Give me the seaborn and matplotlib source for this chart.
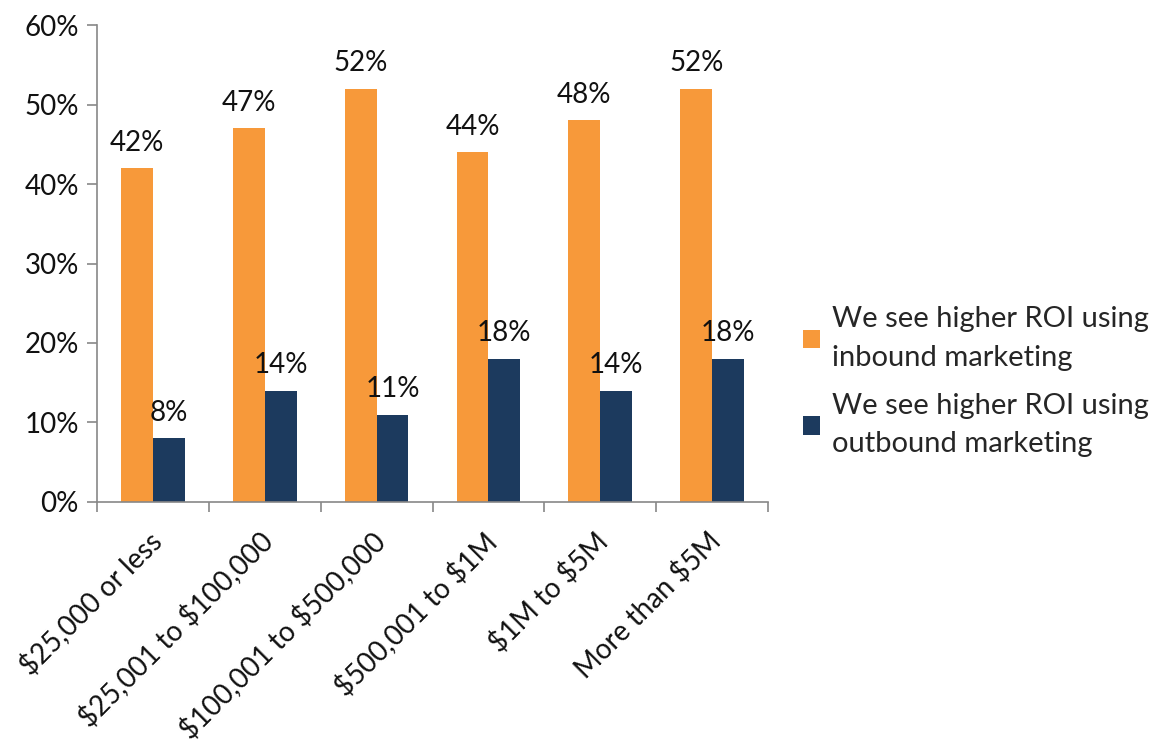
import matplotlib
matplotlib.use("Agg")
import matplotlib.pyplot as plt
import matplotlib.transforms as mtransforms
import seaborn as sns
import pandas as pd
from matplotlib.ticker import FixedLocator, FuncFormatter

categories = ["$25,000 or less", "$25,001 to $100,000", "$100,001 to $500,000",
              "$500,001 to $1M", "$1M to $5M", "More than $5M"]
inbound = [42, 47, 52, 44, 48, 52]
outbound = [8, 14, 11, 18, 14, 18]
series_names = ["We see higher ROI using\ninbound marketing",
                "We see higher ROI using\noutbound marketing"]
colors = ["#F7993A", "#1C3A5E"]

df = pd.DataFrame({
    "category": categories * 2,
    "value": inbound + outbound,
    "series": [series_names[0]] * len(categories) + [series_names[1]] * len(categories),
})

sns.set_style("white")
plt.rcParams["font.family"] = ["Lato", "DejaVu Sans"]

fig = plt.figure(figsize=(11.59, 7.47), dpi=100)
ax = fig.add_axes([0.0837, 0.328, 0.579, 0.6385])

sns.barplot(data=df, x="category", y="value", hue="series", order=categories,
            hue_order=series_names, palette=colors, width=0.57, saturation=1,
            gap=0, ax=ax, linewidth=0, edgecolor="none")

for cont in ax.containers:
    ax.bar_label(cont, labels=[f"{v:.0f}%" for v in cont.datavalues],
                 padding=9, fontsize=20, color="#111111")

ax.set_ylim(0, 60)
ax.set_xlim(-0.5, len(categories) - 0.5)
ax.set_yticks(range(0, 61, 10))
ax.yaxis.set_major_formatter(FuncFormatter(lambda v, p: f"{v:.0f}%"))
ax.tick_params(axis="y", labelsize=20, length=7, width=1.2, color="#888888",
               direction="out", left=True, pad=6, labelcolor="#111111")

# group boundary ticks (major) and centered labels (minor)
ax.xaxis.set_major_locator(FixedLocator([i - 0.5 for i in range(len(categories) + 1)]))
ax.xaxis.set_major_formatter(FuncFormatter(lambda v, p: ""))
ax.xaxis.set_minor_locator(FixedLocator(list(range(len(categories)))))
ax.set_xticklabels([c.replace("$", r"\$") for c in categories], minor=True)
ax.tick_params(axis="x", which="major", length=7, width=1.2, color="#888888",
               direction="out", bottom=True)
ax.tick_params(axis="x", which="minor", length=0, labelsize=20, pad=18,
               labelcolor="#111111")
offset = mtransforms.ScaledTranslation(-6 / 100, 0, fig.dpi_scale_trans)
for lbl in ax.get_xticklabels(minor=True):
    lbl.set_rotation(45)
    lbl.set_ha("right")
    lbl.set_rotation_mode("anchor")
    lbl.set_transform(lbl.get_transform() + offset)

ax.set_xlabel("")
ax.set_ylabel("")

for side in ["top", "right"]:
    ax.spines[side].set_visible(False)
for side in ["left", "bottom"]:
    ax.spines[side].set_color("#888888")
    ax.spines[side].set_linewidth(1.2)

leg = ax.legend(loc="center left", bbox_to_anchor=(1.034, 0.252), frameon=False,
                fontsize=21, handlelength=0.6, handleheight=0.6, handletextpad=0.4,
                labelspacing=0.75, borderaxespad=0)
for t in leg.get_texts():
    t.set_linespacing(1.6)

fig.savefig("out.png", dpi=100, facecolor="white")
